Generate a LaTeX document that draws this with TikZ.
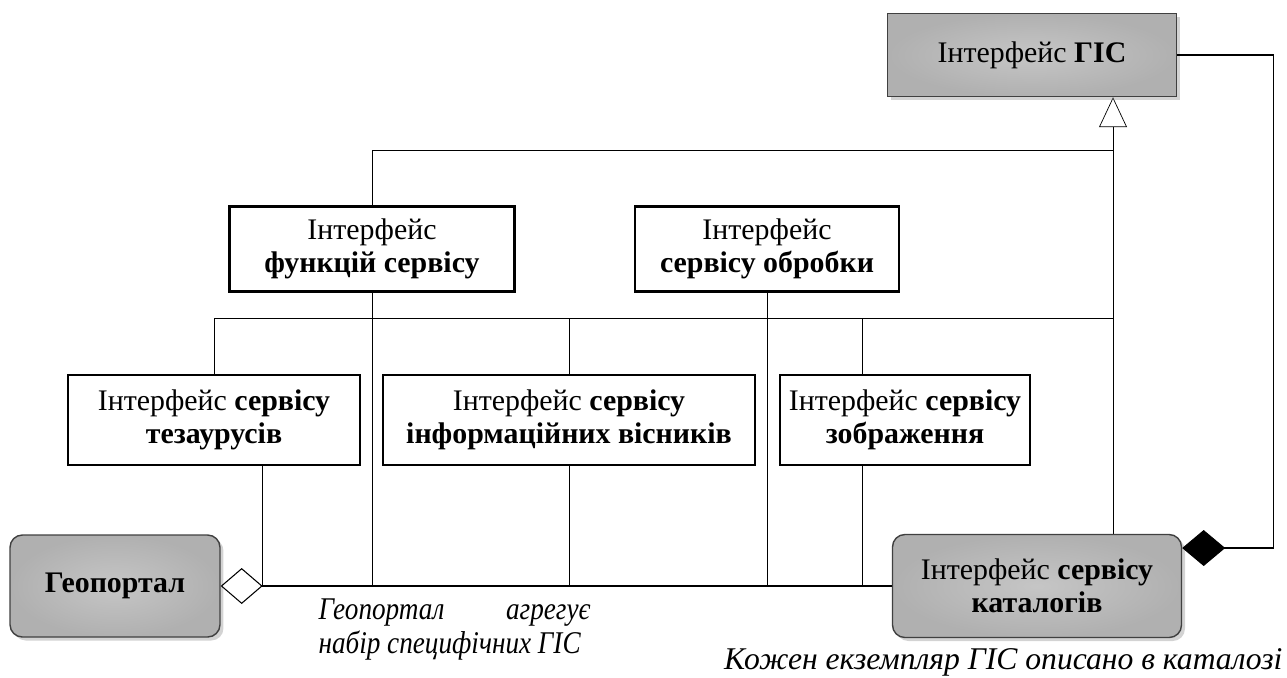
\documentclass[tikz,border=0pt]{standalone}
\usepackage{fontspec}
\setmainfont{Liberation Serif}
\newfontfamily\narrowserif[FakeStretch=0.86]{Liberation Serif}
\usetikzlibrary{arrows.meta,shadows,backgrounds}

\begin{document}
\begin{tikzpicture}[x=0.02cm,y=-0.02cm,line width=0.6pt,font=\fontsize{17}{19}\selectfont,
  iface/.style={draw,line width=1.3pt,fill=white,align=center,inner sep=2pt},
  mainbox/.style={draw=black!75,line width=0.8pt,inner color=gray!45,outer color=gray!62,align=center,
    drop shadow={opacity=0.35,shadow xshift=2pt,shadow yshift=-2pt}},
  note/.style={font=\fontsize{18}{20.5}\selectfont\itshape,align=left,inner sep=0pt}]
  \useasboundingbox(0,0)rectangle(1287,677);
  \node[mainbox,minimum width=5.78cm,minimum height=1.66cm] (gis) at (1032,55){Інтерфейс \textbf{ГІС}};
  \node[iface,minimum width=5.7cm,minimum height=1.7cm] (func) at (372,249){Інтерфейс\\\textbf{функцій сервісу}};
  \node[iface,minimum width=5.28cm,minimum height=1.7cm] (proc) at (767,249){Інтерфейс\\\textbf{сервісу обробки}};
  \node[iface,minimum width=5.84cm,minimum height=1.8cm] (thes) at (214,420){Інтерфейс \textbf{сервісу}\\\textbf{тезаурусів}};
  \node[iface,minimum width=7.44cm,minimum height=1.8cm] (news) at (569,420){Інтерфейс \textbf{сервісу}\\\textbf{інформаційних вісників}};
  \node[iface,minimum width=5.0cm,minimum height=1.8cm] (img) at (905,420){Інтерфейс \textbf{сервісу}\\\textbf{зображення}};
  \node[mainbox,rounded corners=7pt,minimum width=4.2cm,minimum height=2.04cm] (geo) at (115,586){\textbf{Геопортал}};
  \node[mainbox,rounded corners=7pt,minimum width=5.78cm,minimum height=2.06cm] (cat) at (1037,586){Інтерфейс \textbf{сервісу}\\\textbf{каталогів}};
  \node[note,font=\fontsize{18}{19.5}\selectfont\narrowserif\itshape,anchor=north west] (aggtext) at (318,598){\makebox[5.44cm][s]{Геопортал агрегує}\\набір специфічних ГІС};
  \node[note,anchor=east] (cattext) at (1283,662){Кожен екземпляр ГІС описано в каталозі};
  \coordinate (hub) at (1113,318);
  \coordinate (top) at (1113,150);
  \coordinate (agg) at (262,586);
  \coordinate (imgx) at (862,318);
  \begin{scope}[on background layer]
    \draw[-{Triangle[open,length=0.6cm,width=0.56cm]}](cat.north -| hub)--(gis.south -| hub);
    \draw(func.north)|-(top);
    \draw(thes.north)|-(hub);
    \draw(func.south)--(func.south |- geo);
    \draw(proc.south)--(proc.south |- geo);
    \draw(news.north |- hub)--(news.north |- geo);
    \draw(imgx)--(imgx |- geo);
    \draw(agg |- thes.south)--(agg);
  \end{scope}
  \draw[{Diamond[open,length=0.84cm,width=0.72cm]}-](geo.east)--(cat.west);
  \draw[{Diamond[length=0.86cm,width=0.72cm]}-]([yshift=0.76cm]cat.east)--++(91,0)|-(gis.east);
\end{tikzpicture}
\end{document}
